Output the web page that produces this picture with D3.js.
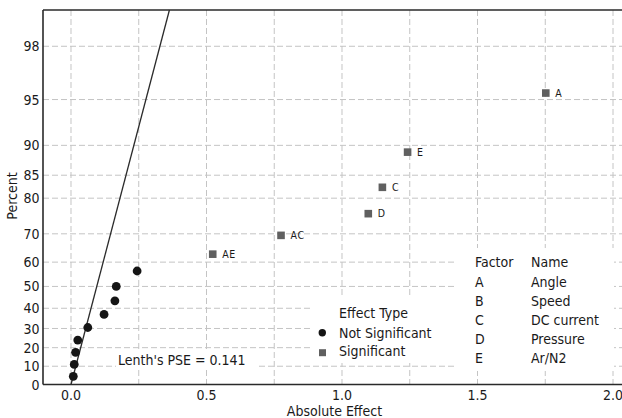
<!DOCTYPE html>
<html>
<head>
<meta charset="utf-8">
<script src="https://cdn.jsdelivr.net/npm/d3@7"></script>
<style>
  body { margin: 0; background: #fff; }
  svg text { font-family: "DejaVu Sans Condensed", "Liberation Sans", sans-serif; fill: #1a1a1a; }
</style>
</head>
<body>
<div id="chart"></div>
<script>
// effects
let nsEffects = [0.0085, 0.012, 0.017, 0.025, 0.062, 0.122, 0.162, 0.167, 0.244];
let nsPercent = [4.5, 11.0, 17.5, 24.0, 30.5, 37.0, 43.5, 50.0, 56.5];
let sigLabels = ["AE", "AC", "D", "C", "E", "A"];
let sigEffects = [0.523, 0.775, 1.097, 1.149, 1.242, 1.752];
let sigPercent = [63.0, 69.5, 76.0, 82.5, 89.0, 95.5];
let lenthPSE = 0.141;

let yTicks = [0, 10, 20, 30, 40, 50, 60, 70, 80, 85, 90, 95, 98];
let xTicks = [0, 0.5, 1.0, 1.5, 2.0];
let xGrid = [0, 0.25, 0.5, 0.75, 1.0, 1.25, 1.5, 1.75, 2.0];

let factorCodes = ["A", "B", "C", "D", "E"];
let factorNames = ["Angle", "Speed", "DC current", "Pressure", "Ar/N2"];

var width = 622, height = 418;
var plotLeft = 43, plotTop = 10, plotBottom = 384.5, plotRight = 622;

// inverse normal cdf (Acklam)
function probit(p) {
    var a = [-39.69683028665376, 220.9460984245205, -275.9285104469687, 138.3577518672690, -30.66479806614716, 2.506628277459239];
    var b = [-54.47609879822406, 161.5858368580409, -155.6989798598866, 66.80131188771972, -13.28068155211918];
    var c = [-0.007784894002430293, -0.3223964580411365, -2.400758277161838, -2.549732539343734, 4.374664141464968, 2.938163982698783];
    var d = [0.007784695709041462, 0.3224671290700398, 2.445134137142996, 3.754408661907416];
    var q, r;
    if (p < 0.02425) {
        q = Math.sqrt(-2 * Math.log(p));
        return (((((c[0]*q+c[1])*q+c[2])*q+c[3])*q+c[4])*q+c[5]) / ((((d[0]*q+d[1])*q+d[2])*q+d[3])*q+1);
    }
    if (p > 1 - 0.02425) {
        q = Math.sqrt(-2 * Math.log(1 - p));
        return -(((((c[0]*q+c[1])*q+c[2])*q+c[3])*q+c[4])*q+c[5]) / ((((d[0]*q+d[1])*q+d[2])*q+d[3])*q+1);
    }
    q = p - 0.5; r = q * q;
    return (((((a[0]*r+a[1])*r+a[2])*r+a[3])*r+a[4])*r+a[5])*q / (((((b[0]*r+b[1])*r+b[2])*r+b[3])*r+b[4])*r+1);
}
// half-normal score of a percent
function hz(pct) { return pct <= 0 ? 0 : probit(0.5 + pct / 200); }

let zTop = hz(99);
let x = d3.scaleLinear().domain([-0.1033, 2.0332]).range([plotLeft, plotRight]);
let zScale = d3.scaleLinear().domain([0, zTop]).range([plotBottom, plotTop]);
let y = pct => zScale(hz(pct));

let svg = d3.select('#chart').append('svg')
    .attr('width', width)
    .attr('height', height);

// grid
let grid = svg.append('g').attr('stroke', '#c4c4c4').attr('stroke-width', 1).attr('stroke-dasharray', '6,3');
xGrid.forEach(v => {
    grid.append('line')
        .attr('x1', x(v)).attr('x2', x(v))
        .attr('y1', plotTop).attr('y2', plotBottom);
});
yTicks.filter(v => v > 0).forEach(v => {
    grid.append('line')
        .attr('x1', plotLeft).attr('x2', plotRight)
        .attr('y1', y(v)).attr('y2', y(v));
});

// white boxes behind the annotations
svg.append('rect').attr('x', 116).attr('y', 352).attr('width', 140).attr('height', 18).attr('fill', '#fff');
svg.append('rect').attr('x', 310).attr('y', 297).attr('width', 147).attr('height', 66).attr('fill', '#fff');
svg.append('rect').attr('x', 456).attr('y', 248).attr('width', 158).attr('height', 123).attr('fill', '#fff');

// reference line: effect = PSE * z
svg.append('line')
    .attr('x1', x(0)).attr('y1', zScale(0))
    .attr('x2', x(lenthPSE * zTop)).attr('y2', zScale(zTop))
    .attr('stroke', '#2b2b2b')
    .attr('stroke-width', 1.3);

// not significant points
nsEffects.forEach((e, i) => {
    svg.append('circle')
        .attr('cx', x(e))
        .attr('cy', y(nsPercent[i]))
        .attr('r', 4.4)
        .attr('fill', '#151515');
});

// significant points
sigEffects.forEach((e, i) => {
    svg.append('rect')
        .attr('x', x(e) - 3.8)
        .attr('y', y(sigPercent[i]) - 3.8)
        .attr('width', 7.6)
        .attr('height', 7.6)
        .attr('fill', '#606060');
    svg.append('text')
        .attr('x', x(e) + 9.5)
        .attr('y', y(sigPercent[i]) + 3.6)
        .attr('font-size', 10.5)
        .attr('letter-spacing', 0.6)
        .text(sigLabels[i]);
});

// axes frame
let frame = svg.append('g').attr('stroke', '#2a2a2a').attr('stroke-width', 1.6).attr('fill', 'none');
frame.append('line').attr('x1', plotLeft).attr('x2', plotRight).attr('y1', plotTop).attr('y2', plotTop);
frame.append('line').attr('x1', plotLeft).attr('x2', plotLeft).attr('y1', plotTop).attr('y2', plotBottom);
frame.append('line').attr('x1', plotLeft).attr('x2', plotRight).attr('y1', plotBottom).attr('y2', plotBottom);

// tick labels
yTicks.forEach(v => {
    svg.append('text')
        .attr('x', 39.5)
        .attr('y', y(v))
        .attr('dy', '0.36em')
        .attr('text-anchor', 'end')
        .attr('font-size', 14)
        .text(v);
});
xTicks.forEach(v => {
    svg.append('text')
        .attr('x', x(v))
        .attr('y', 399.5)
        .attr('text-anchor', 'middle')
        .attr('font-size', 14)
        .text(d3.format('.1f')(v));
});

// axis titles
svg.append('text')
    .attr('x', 334.5).attr('y', 416)
    .attr('text-anchor', 'middle')
    .attr('font-size', 14)
    .text('Absolute Effect');
svg.append('text')
    .attr('transform', 'translate(17,196) rotate(-90)')
    .attr('text-anchor', 'middle')
    .attr('font-size', 14)
    .text('Percent');

// Lenth's PSE
svg.append('text')
    .attr('x', 118).attr('y', 365)
    .attr('font-size', 14)
    .text("Lenth's PSE = " + lenthPSE);

// effect type legend
svg.append('text').attr('x', 339).attr('y', 318.3).attr('font-size', 14).text('Effect Type');
svg.append('circle').attr('cx', 322.3).attr('cy', 332.8).attr('r', 3.7).attr('fill', '#151515');
svg.append('text').attr('x', 339).attr('y', 337.8).attr('font-size', 14).text('Not Significant');
svg.append('rect').attr('x', 319).attr('y', 349.2).attr('width', 7).attr('height', 7).attr('fill', '#606060');
svg.append('text').attr('x', 339).attr('y', 356.4).attr('font-size', 14).text('Significant');

// factor table
svg.append('text').attr('x', 475).attr('y', 267.3).attr('font-size', 14).text('Factor');
svg.append('text').attr('x', 531).attr('y', 267.3).attr('font-size', 14).text('Name');
factorCodes.forEach((f, i) => {
    svg.append('text').attr('x', 475).attr('y', 286.5 + i * 19.05).attr('font-size', 14).text(f);
    svg.append('text').attr('x', 531).attr('y', 286.5 + i * 19.05).attr('font-size', 14).text(factorNames[i]);
});
</script>
</body>
</html>
